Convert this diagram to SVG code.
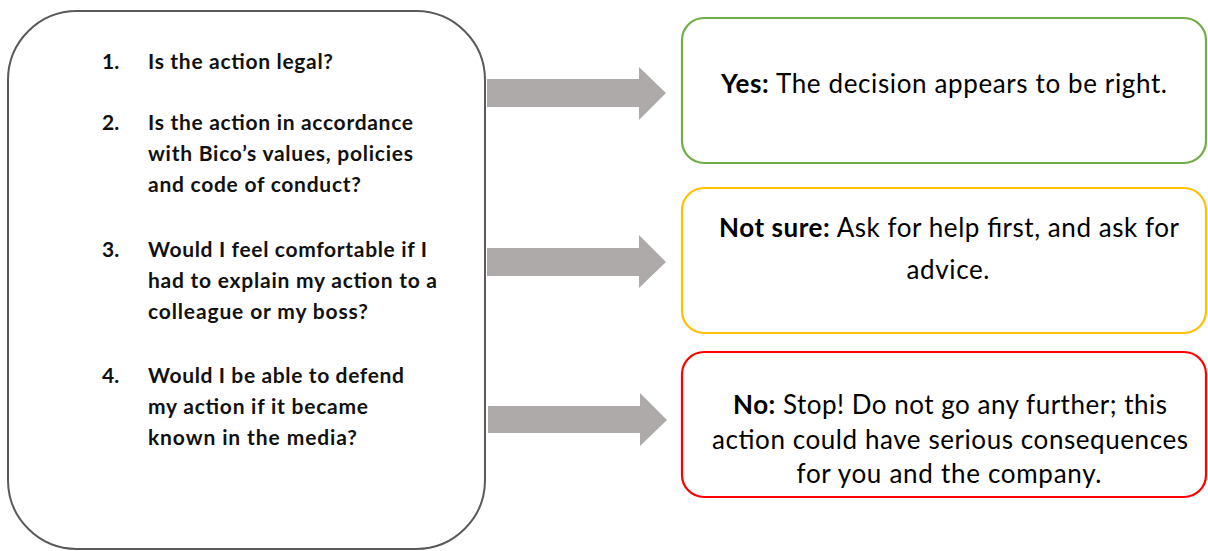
<svg xmlns="http://www.w3.org/2000/svg" width="1208" height="551" viewBox="0 0 1208 551">
<style>
.q{font-family:Lato,"Liberation Sans",sans-serif;font-weight:bold;font-size:21px;fill:#111}
.a{font-family:Lato,"Open Sans",sans-serif;font-size:26px;fill:#000}
.b{font-weight:bold}
.box{fill:#fff;stroke-width:2.2}
.arr{fill:#AEAAAA}
</style>
<rect width="1208" height="551" fill="#fff"/>
<g id="questions">
<rect x="8" y="11" width="477" height="538" rx="69" ry="69" fill="#fff" stroke="#5a5a5a" stroke-width="2"/>
<text class="q" x="102" y="69">1.</text>
<text class="q" x="148" y="69" textLength="185">Is the action legal?</text>
<text class="q" x="102" y="130">2.</text>
<text class="q" x="148" y="130" textLength="265">Is the action in accordance</text>
<text class="q" x="148" y="161" textLength="265">with Bico’s values, policies</text>
<text class="q" x="148" y="192" textLength="213">and code of conduct?</text>
<text class="q" x="102" y="257">3.</text>
<text class="q" x="148" y="257" textLength="279">Would I feel comfortable if I</text>
<text class="q" x="148" y="288" textLength="289">had to explain my action to a</text>
<text class="q" x="148" y="319" textLength="220">colleague or my boss?</text>
<text class="q" x="102" y="383">4.</text>
<text class="q" x="148" y="383" textLength="256">Would I be able to defend</text>
<text class="q" x="148" y="414" textLength="220">my action if it became</text>
<text class="q" x="148" y="445" textLength="209">known in the media?</text>
</g>
<g id="connectors">
<polygon class="arr" points="487,79 639,79 639,67 666,93 639,120 639,107 487,107"/>
<polygon class="arr" points="487,248 639,248 639,235 666,262 639,288 639,276 487,276"/>
<polygon class="arr" points="488,406 640,406 640,393 667,420 640,446 640,433 488,433"/>
</g>
<g id="yes">
<rect class="box" x="682" y="18" width="524" height="145" rx="22" stroke="#70AD47"/>
<text class="a" x="944" y="93" text-anchor="middle" textLength="446"><tspan class="b">Yes:</tspan> The decision appears to be right.</text>
</g>
<g id="notsure">
<rect class="box" x="682" y="188" width="524" height="145" rx="22" stroke="#FFC000"/>
<text class="a" x="949" y="237" text-anchor="middle" textLength="460"><tspan class="b">Not sure:</tspan> Ask for help first, and ask for</text>
<text class="a" x="948" y="279" text-anchor="middle" textLength="83">advice.</text>
</g>
<g id="no">
<rect class="box" x="682" y="352" width="524" height="145" rx="22" stroke="#FF0000"/>
<text class="a" x="950" y="414" text-anchor="middle" textLength="434"><tspan class="b">No:</tspan> Stop! Do not go any further; this</text>
<text class="a" x="950" y="449" text-anchor="middle" textLength="476">action could have serious consequences</text>
<text class="a" x="949" y="483" text-anchor="middle" textLength="305">for you and the company.</text>
</g>
</svg>
